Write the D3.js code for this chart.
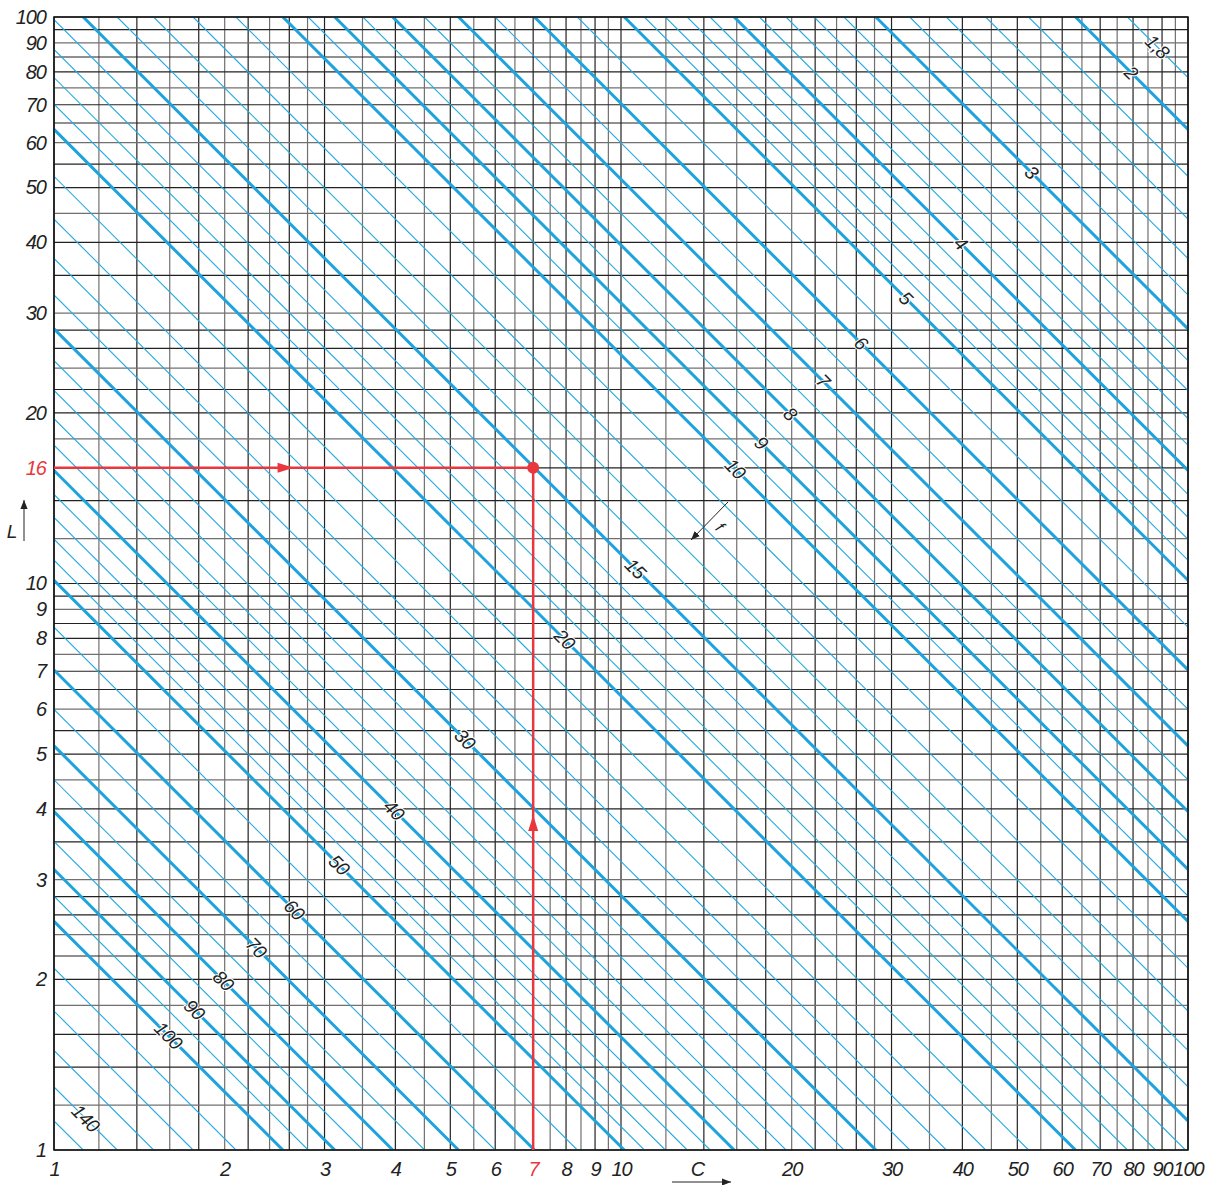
<!DOCTYPE html>
<html>
<head>
<meta charset="utf-8">
<script src="https://cdn.jsdelivr.net/npm/d3@7"></script>
<style>
  body { margin: 0; background: #fff; }
  svg text { font-family: "Liberation Sans Narrow", "Liberation Sans", Arial, sans-serif; font-style: italic; }
</style>
</head>
<body>
<svg id="chart"></svg>
<script>
// grid lines (same for C and L, per decade)
const gridValues = [1, 1.2, 1.4, 1.6, 1.8, 2, 2.2, 2.4, 2.6, 2.8, 3, 3.5, 4, 4.5, 5, 5.5, 6, 6.5, 7, 7.5, 8, 8.5, 9, 9.5,
    10, 12, 14, 16, 18, 20, 22, 24, 26, 28, 30, 35, 40, 45, 50, 55, 60, 65, 70, 75, 80, 85, 90, 95, 100];

// tick labels
const xTicks = [1, 2, 3, 4, 5, 6, 7, 8, 9, 10, 20, 30, 40, 50, 60, 70, 80, 90, 100];
const yTicks = [1, 2, 3, 4, 5, 6, 7, 8, 9, 10, 16, 20, 30, 40, 50, 60, 70, 80, 90, 100];

// resonance frequency lines f (kHz), L*C = (1000 / (2 pi f))^2
const fThin = [1.8, 2.2, 2.4, 2.6, 2.8, 3.2, 3.4, 3.6, 3.8, 4.2, 4.4, 4.6, 4.8, 5.5, 6.5, 7.5, 8.5, 9.5,
    11, 12, 13, 14, 16, 17, 18, 19, 22, 24, 26, 28, 32, 34, 36, 38, 42, 44, 46, 48,
    55, 65, 75, 85, 95, 110, 120, 130, 140, 150];
const fThick = [2, 3, 4, 5, 6, 7, 8, 9, 10, 15, 20, 30, 40, 50, 60, 70, 80, 90, 100];
const fLabels = [1.8, 2, 3, 4, 5, 6, 7, 8, 9, 10, 15, 20, 30, 40, 50, 60, 70, 80, 90, 100, 140];

// example point
const markC = 7;
const markL = 16;

class Nomogram {
    constructor(config) {
        this.config = {
            parent: config.parent,
            width: config.width || 1205,
            height: config.height || 1185,
            left: 54, right: 1188, top: 17, bottom: 1150
        };
        this.K = 1000 / (2 * Math.PI);
        this.init();
    }

    init() {
        let self = this;
        const c = self.config;
        self.svg = d3.select(c.parent)
            .attr('width', c.width)
            .attr('height', c.height);

        self.xscale = d3.scaleLog().domain([1, 100]).range([c.left, c.right]);
        self.yscale = d3.scaleLog().domain([1, 100]).range([c.bottom, c.top]);

        const defs = self.svg.append('defs');
        defs.append('clipPath').attr('id', 'plot')
            .append('rect')
            .attr('x', c.left).attr('y', c.top)
            .attr('width', c.right - c.left).attr('height', c.bottom - c.top);
        defs.append('marker').attr('id', 'ah')
            .attr('viewBox', '0 0 10 10').attr('refX', 10).attr('refY', 5)
            .attr('markerWidth', 9).attr('markerHeight', 9)
            .attr('markerUnits', 'userSpaceOnUse')
            .attr('orient', 'auto')
            .append('path').attr('d', 'M0,1 L10,5 L0,9 Z').attr('fill', '#222');
    }

    render() {
        let self = this;
        const c = self.config;
        const x = self.xscale, y = self.yscale;

        // grid
        const grid = self.svg.append('g');
        grid.selectAll('line.v')
            .data(gridValues)
            .join('line')
            .attr('x1', d => x(d)).attr('x2', d => x(d))
            .attr('y1', c.top).attr('y2', c.bottom)
            .attr('stroke', (d, i) => i % 2 ? '#707070' : '#222')
            .attr('stroke-width', 1.2);
        grid.selectAll('line.h')
            .data(gridValues)
            .join('line')
            .attr('y1', d => y(d)).attr('y2', d => y(d))
            .attr('x1', c.left).attr('x2', c.right)
            .attr('stroke', (d, i) => i % 3 === 1 ? '#707070' : '#222')
            .attr('stroke-width', 1.2);

        // f lines
        const seg = f => {
            const lc = Math.pow(self.K / f, 2);
            const c0 = Math.max(1, lc / 100), c1 = Math.min(100, lc);
            return [[x(c0), y(lc / c0)], [x(c1), y(lc / c1)]];
        };
        const fl = self.svg.append('g').attr('clip-path', 'url(#plot)');
        fl.selectAll('line.thin')
            .data(fThin)
            .join('line')
            .attr('x1', d => seg(d)[0][0]).attr('y1', d => seg(d)[0][1])
            .attr('x2', d => seg(d)[1][0]).attr('y2', d => seg(d)[1][1])
            .attr('stroke', '#25a9e0').attr('stroke-width', 1.1);
        fl.selectAll('line.thick')
            .data(fThick)
            .join('line')
            .attr('x1', d => seg(d)[0][0]).attr('y1', d => seg(d)[0][1])
            .attr('x2', d => seg(d)[1][0]).attr('y2', d => seg(d)[1][1])
            .attr('stroke', '#1ea3dd').attr('stroke-width', 3);

        // frame
        self.svg.append('rect')
            .attr('x', c.left).attr('y', c.top)
            .attr('width', c.right - c.left).attr('height', c.bottom - c.top)
            .attr('fill', 'none').attr('stroke', '#111').attr('stroke-width', 1.5);

        // f labels along the line x + y = 1204
        const a = (c.right - c.left) / 2, b = (c.bottom - c.top) / 2, S = 1204;
        const labelPos = f => {
            const llc = Math.log10(Math.pow(self.K / f, 2));
            const lcC = (S - c.left - c.bottom + b * llc) / (a + b);
            const C = Math.pow(10, lcC);
            return [x(C), y(Math.pow(10, llc) / C)];
        };
        self.svg.append('g').selectAll('text')
            .data(fLabels)
            .join('text')
            .attr('transform', d => `translate(${labelPos(d)[0]},${labelPos(d)[1]}) rotate(45)`)
            .attr('text-anchor', 'middle')
            .attr('dominant-baseline', 'central')
            .attr('font-size', '19px')
            .attr('letter-spacing', '-0.5px')
            .attr('fill', '#222')
            .attr('stroke', '#fff').attr('stroke-width', 2).attr('paint-order', 'stroke')
            .text(d => String(d).replace('.', ','));

        // axes
        const xaxis = d3.axisBottom(x).tickValues(xTicks).tickSize(0).tickPadding(12)
            .tickFormat(d3.format('d'));
        const yaxis = d3.axisLeft(y).tickValues(yTicks).tickSize(0).tickPadding(8)
            .tickFormat(d3.format('d'));
        const xg = self.svg.append('g').attr('transform', `translate(0,${c.bottom})`).call(xaxis);
        const yg = self.svg.append('g').attr('transform', `translate(${c.left},0)`).call(yaxis);
        [xg, yg].forEach(g => {
            g.select('.domain').remove();
            g.selectAll('text')
                .attr('font-family', '"Liberation Sans Narrow", "Liberation Sans", Arial, sans-serif')
                .attr('font-size', '20px')
                .attr('letter-spacing', '-1px')
                .attr('fill', '#222');
        });
        xg.selectAll('text').filter(d => d === markC).attr('fill', '#e8383d');
        yg.selectAll('text').filter(d => d === markL).attr('fill', '#e8383d');

        // example reading: L=16, C=7
        const red = '#e8383d';
        const px = x(markC), py = y(markL);
        self.svg.append('line')
            .attr('x1', c.left).attr('y1', py).attr('x2', px).attr('y2', py)
            .attr('stroke', red).attr('stroke-width', 2.5);
        self.svg.append('line')
            .attr('x1', px).attr('y1', c.bottom).attr('x2', px).attr('y2', py)
            .attr('stroke', red).attr('stroke-width', 2.5);
        const hx = (c.left + px) / 2, vy = (c.bottom + py) / 2 + 6;
        self.svg.append('path')
            .attr('d', `M${hx},${py} L${hx - 16},${py - 5} L${hx - 16},${py + 5} Z`)
            .attr('fill', red);
        self.svg.append('path')
            .attr('d', `M${px},${vy} L${px - 5},${vy + 16} L${px + 5},${vy + 16} Z`)
            .attr('fill', red);
        self.svg.append('circle')
            .attr('cx', px).attr('cy', py).attr('r', 6).attr('fill', red);

        // axis names
        self.svg.append('text')
            .attr('x', 12).attr('y', 531).attr('text-anchor', 'middle')
            .attr('dominant-baseline', 'central').attr('font-size', '19px').attr('fill', '#222')
            .text('L');
        self.svg.append('line')
            .attr('x1', 24).attr('y1', 541).attr('x2', 24).attr('y2', 500)
            .attr('stroke', '#222').attr('stroke-width', 1).attr('marker-end', 'url(#ah)');
        self.svg.append('text')
            .attr('x', 698).attr('y', 1169).attr('text-anchor', 'middle')
            .attr('dominant-baseline', 'central').attr('font-size', '20px').attr('fill', '#222')
            .text('C');
        self.svg.append('line')
            .attr('x1', 672).attr('y1', 1182).attr('x2', 731).attr('y2', 1182)
            .attr('stroke', '#222').attr('stroke-width', 1).attr('marker-end', 'url(#ah)');

        // f direction arrow
        self.svg.append('line')
            .attr('x1', 728).attr('y1', 502).attr('x2', 691).attr('y2', 540)
            .attr('stroke', '#222').attr('stroke-width', 1).attr('marker-end', 'url(#ah)');
        self.svg.append('text')
            .attr('transform', 'translate(720,527) rotate(45)')
            .attr('text-anchor', 'middle').attr('dominant-baseline', 'central')
            .attr('font-size', '16px').attr('fill', '#222')
            .text('f');
    }
}

const chart = new Nomogram({ parent: '#chart', width: 1205, height: 1185 });
chart.render();
</script>
</body>
</html>
